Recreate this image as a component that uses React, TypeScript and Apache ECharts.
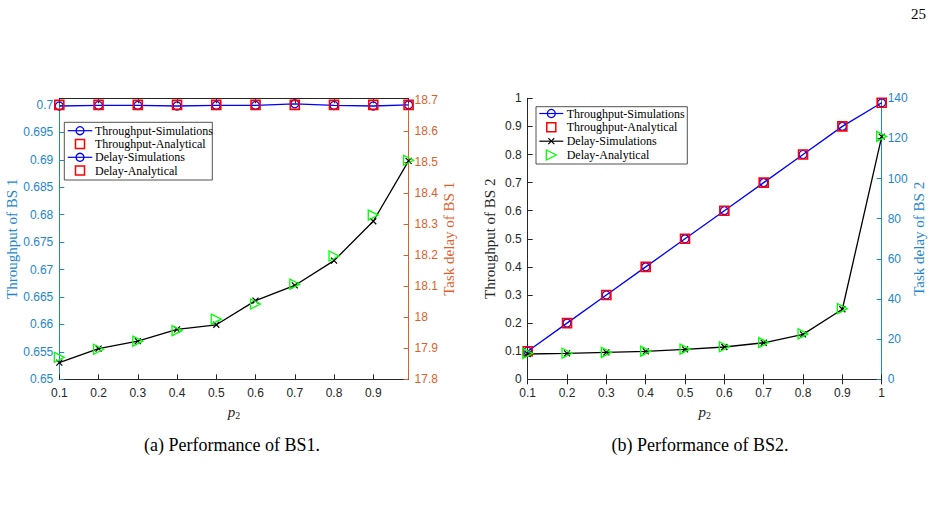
import React, { useEffect, useRef } from "react";
import * as echarts from "echarts";

// ---------- data ----------
const p2Left = [0.1, 0.2, 0.3, 0.4, 0.5, 0.6, 0.7, 0.8, 0.9, 0.99];
const thrSimBS1 = [0.6998, 0.6999, 0.6999, 0.6998, 0.6999, 0.6999, 0.7002, 0.6999, 0.6998, 0.7];
const thrAnaBS1 = [0.7, 0.7, 0.7, 0.7, 0.7, 0.7, 0.7, 0.7, 0.7, 0.7];
const delaySimBS1 = [17.854, 17.899, 17.923, 17.961, 17.976, 18.054, 18.103, 18.183, 18.31, 18.505];
const delayAnaBS1 = [17.871, 17.897, 17.923, 17.957, 17.994, 18.043, 18.107, 18.198, 18.33, 18.507];

const p2Right = [0.1, 0.2, 0.3, 0.4, 0.5, 0.6, 0.7, 0.8, 0.9, 1.0];
const thrSimBS2 = [0.1, 0.2, 0.3, 0.4, 0.5, 0.6, 0.7, 0.8, 0.9, 0.984];
const thrAnaBS2 = [0.1, 0.2, 0.3, 0.4, 0.5, 0.6, 0.7, 0.8, 0.9, 0.984];
const delaySimBS2 = [12.6, 12.9, 13.4, 13.9, 14.9, 16.1, 18.2, 22.4, 34.9, 120.9];
const delayAnaBS2 = [12.9, 13.0, 13.4, 14.0, 15.0, 16.2, 18.3, 22.6, 35.2, 121.0];

const legendLabels = [
  "Throughput-Simulations",
  "Throughput-Analytical",
  "Delay-Simulations",
  "Delay-Analytical",
];
const captions = ["(a) Performance of BS1.", "(b) Performance of BS2."];
const pageNumber = "25";
const yNames = ["Throughput of BS 1", "Task delay of BS 1", "Throughput of BS 2", "Task delay of BS 2"];

// ---------- styles ----------
const BLUE_AX = "#2286cf";
const ORANGE_AX = "#dd5f2c";
const DARK = "#262626";
const SANS = "Liberation Sans";
const SERIF = "Liberation Serif";
const X_MARK = "path://M0,0L10,10M10,0L0,10";
const TRI_RIGHT = "path://M0,0L10,5L0,10Z";

const zip = (xs: number[], ys: number[]) => xs.map((x, i) => [x, ys[i]]);

function xAxisPair(grid: number, max: number, hideMax: boolean) {
  const common = {
    gridIndex: grid,
    type: "value",
    min: 0.1,
    max,
    interval: 0.1,
    splitLine: { show: false },
    axisLine: { show: true, lineStyle: { color: DARK, width: 1 } },
    axisTick: { show: true, inside: true, length: 5, lineStyle: { color: DARK } },
  };
  return [
    {
      ...common,
      position: "bottom",
      axisLabel: {
        color: DARK,
        fontFamily: SANS,
        fontSize: 12,
        margin: 8,
        showMaxLabel: !hideMax,
      },
      name: "{p|p}{s|2}",
      nameLocation: "middle",
      nameGap: 21,
      nameTextStyle: {
        rich: {
          p: { fontFamily: SERIF, fontStyle: "italic", fontSize: 15, color: DARK },
          s: { fontFamily: SERIF, fontSize: 10, color: DARK, padding: [7, 0, 0, 0] },
        },
      },
    },
    {
      ...common,
      position: "top",
      axisLabel: { show: false },
    },
  ];
}

function yAxis(grid: number, pos: string, min: number, max: number, interval: number, color: string, name: string, gap: number, hideMax: boolean) {
  return {
    gridIndex: grid,
    type: "value",
    position: pos,
    min,
    max,
    interval,
    splitLine: { show: false },
    axisLine: { show: true, lineStyle: { color, width: 1 } },
    axisTick: { show: true, inside: true, length: 5, lineStyle: { color } },
    axisLabel: { color, fontFamily: SANS, fontSize: 12, margin: 6, showMaxLabel: !hideMax },
    name,
    nameLocation: "middle",
    nameGap: gap,
    nameTextStyle: { color, fontFamily: SERIF, fontSize: 15 },
  };
}

function legendGraphic(
  bx: number,
  by: number,
  bw: number,
  bh: number,
  ys: number[],
  lineX0: number,
  lineX1: number,
  textX: number,
  kinds: string[]
) {
  const children: any[] = [
    {
      type: "rect",
      shape: { x: bx, y: by, width: bw, height: bh },
      style: { fill: "#fff", stroke: DARK, lineWidth: 0.8 },
    },
  ];
  const mx = (lineX0 + lineX1) / 2;
  kinds.forEach((k, i) => {
    const y = ys[i];
    if (k === "blueCircle" || k === "blackX") {
      const c = k === "blueCircle" ? "#0000ff" : "#000000";
      children.push({
        type: "line",
        shape: { x1: lineX0, y1: y, x2: lineX1, y2: y },
        style: { stroke: c, lineWidth: 1.2 },
      });
      if (k === "blueCircle") {
        children.push({
          type: "circle",
          shape: { cx: mx, cy: y, r: 4 },
          style: { fill: "none", stroke: c, lineWidth: 1.3 },
        });
      } else {
        children.push({
          type: "polyline",
          shape: { points: [[mx - 3, y - 3], [mx + 3, y + 3]] },
          style: { stroke: c, lineWidth: 1.2, fill: null },
        });
        children.push({
          type: "polyline",
          shape: { points: [[mx + 3, y - 3], [mx - 3, y + 3]] },
          style: { stroke: c, lineWidth: 1.2, fill: null },
        });
      }
    } else if (k === "redSquare") {
      children.push({
        type: "rect",
        shape: { x: mx - 4.5, y: y - 4.5, width: 9, height: 9 },
        style: { fill: "none", stroke: "#ff0000", lineWidth: 1.5 },
      });
    } else if (k === "greenTri") {
      children.push({
        type: "polygon",
        shape: { points: [[mx - 5, y - 5], [mx + 5, y], [mx - 5, y + 5]] },
        style: { fill: "none", stroke: "#00ff00", lineWidth: 1.3 },
      });
    }
    children.push({
      type: "text",
      x: textX,
      y,
      style: {
        text: legendLabels[i],
        fontFamily: SERIF,
        fontSize: 12,
        fill: "#000",
        verticalAlign: "middle",
        align: "left",
      },
    });
  });
  return { type: "group", children };
}

export default function App() {
  const ref = useRef<HTMLDivElement>(null);
  useEffect(() => {
    if (!ref.current) return;
    const chart = echarts.init(ref.current, undefined, { renderer: "svg" });
    const circleSeries = (xi: number, yi: number, data: number[][], z: number) => ({
      type: "line",
      xAxisIndex: xi,
      yAxisIndex: yi,
      data,
      symbol: "circle",
      symbolSize: 8,
      clip: false,
      z,
      lineStyle: { color: "#0000ff", width: 1.3 },
      itemStyle: { color: "transparent", borderColor: "#0000ff", borderWidth: 1.3 },
    });
    const squareSeries = (xi: number, yi: number, data: number[][], z: number) => ({
      type: "line",
      xAxisIndex: xi,
      yAxisIndex: yi,
      data,
      symbol: "rect",
      symbolSize: 9,
      clip: false,
      z,
      lineStyle: { width: 0, opacity: 0 },
      itemStyle: { color: "transparent", borderColor: "#ff0000", borderWidth: 1.6 },
    });
    const xSeries = (xi: number, yi: number, data: number[][], z: number) => ({
      type: "line",
      xAxisIndex: xi,
      yAxisIndex: yi,
      data,
      symbol: X_MARK,
      symbolSize: 6,
      clip: false,
      z,
      lineStyle: { color: "#000000", width: 1.3 },
      itemStyle: { color: "transparent", borderColor: "#000000", borderWidth: 1.2 },
    });
    const triSeries = (xi: number, yi: number, data: number[][], z: number) => ({
      type: "line",
      xAxisIndex: xi,
      yAxisIndex: yi,
      data,
      symbol: TRI_RIGHT,
      symbolSize: 10,
      symbolKeepAspect: true,
      clip: false,
      z,
      lineStyle: { width: 0, opacity: 0 },
      itemStyle: { color: "transparent", borderColor: "#00ff00", borderWidth: 1.3 },
    });

    const option: any = {
      animation: false,
      backgroundColor: "#ffffff",
      grid: [
        { left: 59.3, top: 98.3, width: 349.3, height: 281, outerBoundsMode: "none", show: false },
        { left: 527.7, top: 98.3, width: 354, height: 281, outerBoundsMode: "none", show: false },
      ],
      xAxis: [...xAxisPair(0, 0.99, true), ...xAxisPair(1, 1, false)],
      yAxis: [
        yAxis(0, "left", 0.65, 0.7012, 0.005, BLUE_AX, yNames[0], 36, true),
        yAxis(0, "right", 17.8, 18.707, 0.1, ORANGE_AX, yNames[1], 33, true),
        yAxis(1, "left", 0, 1, 0.1, DARK, yNames[2], 30, false),
        yAxis(1, "right", 0, 140, 20, BLUE_AX, yNames[3], 29, false),
      ],
      series: [
        circleSeries(0, 0, zip(p2Left, thrSimBS1), 3),
        squareSeries(0, 0, zip(p2Left, thrAnaBS1), 4),
        xSeries(0, 1, zip(p2Left, delaySimBS1), 5),
        triSeries(0, 1, zip(p2Left, delayAnaBS1), 6),
        circleSeries(2, 2, zip(p2Right, thrSimBS2), 3),
        squareSeries(2, 2, zip(p2Right, thrAnaBS2), 4),
        xSeries(2, 3, zip(p2Right, delaySimBS2), 5),
        triSeries(2, 3, zip(p2Right, delayAnaBS2), 6),
      ],
      graphic: [
        legendGraphic(64.3, 122.3, 148, 57.7, [130.7, 144, 157.3, 170.6], 67.7, 92.3, 95, [
          "blueCircle",
          "redSquare",
          "blueCircle",
          "redSquare",
        ]),
        legendGraphic(536, 106.7, 151.3, 57.3, [113.5, 127.3, 141.2, 155], 539.3, 563.3, 566.7, [
          "blueCircle",
          "redSquare",
          "blackX",
          "greenTri",
        ]),
        {
          type: "text",
          x: 232,
          y: 445,
          style: { text: captions[0], fontFamily: SERIF, fontSize: 18, fill: "#000", align: "center", verticalAlign: "middle" },
        },
        {
          type: "text",
          x: 700,
          y: 445,
          style: { text: captions[1], fontFamily: SERIF, fontSize: 18, fill: "#000", align: "center", verticalAlign: "middle" },
        },
        {
          type: "text",
          x: 926,
          y: 14,
          style: { text: pageNumber, fontFamily: SERIF, fontSize: 15, fill: "#000", align: "right", verticalAlign: "middle" },
        },
      ],
    };
    chart.setOption(option);
    return () => chart.dispose();
  }, []);
  return (
    <div
      ref={ref}
      style={{ position: "fixed", left: 0, top: 0, width: 941, height: 505, background: "#fff" }}
    />
  );
}
